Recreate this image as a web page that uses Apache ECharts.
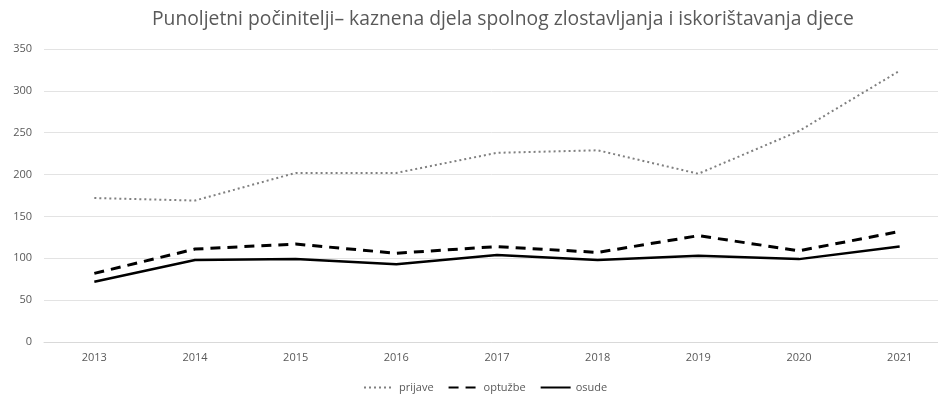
<!DOCTYPE html>
<html><head><meta charset="utf-8">
<script src="https://cdn.jsdelivr.net/npm/echarts@6/dist/echarts.min.js"></script>
<style>html,body{margin:0;padding:0;background:#fff}#c{width:938px;height:400px}</style>
</head><body><div id="c"></div>
<script>
const titleText = 'Punoljetni počinitelji– kaznena djela spolnog zlostavljanja i iskorištavanja djece';
const years = ['2013','2014','2015','2016','2017','2018','2019','2020','2021'];
const prijave = [172, 169, 202, 202, 226, 229, 201, 252, 324];
const optuzbe = [82, 111, 117, 106, 114, 107, 127, 109, 132];
const osude = [72, 98, 99, 93, 104, 98, 103, 99, 114];
const yTicks = {min: 0, max: 350, interval: 50};

const chart = echarts.init(document.getElementById('c'));
const font = '"Open Sans", sans-serif';
chart.setOption({
  animation: false,
  title: {text: titleText, left: 147, top: 5, textStyle: {fontFamily: font, fontSize: 19.3, fontWeight: 'normal', color: '#595959'}},
  legend: {
    left: 358, bottom: 2, itemWidth: 30, itemHeight: 10, itemGap: 14,
    itemStyle: {opacity: 0},
    textStyle: {fontFamily: font, fontSize: 11, color: '#595959'},
    data: ['prijave', 'optužbe', 'osude']
  },
  grid: {left: 44, width: 906, top: 49, bottom: 58, outerBoundsMode: 'none', containLabel: false},
  xAxis: {
    type: 'category', data: years, boundaryGap: true,
    axisLine: {lineStyle: {color: '#d9d9d9'}}, axisTick: {show: false},
    axisLabel: {fontFamily: font, fontSize: 11, color: '#595959', margin: 10}
  },
  yAxis: {
    type: 'value', min: yTicks.min, max: yTicks.max, interval: yTicks.interval,
    axisLine: {show: false}, axisTick: {show: false},
    splitLine: {lineStyle: {color: '#e3e3e3', width: 1}},
    axisLabel: {fontFamily: font, fontSize: 11, color: '#595959', margin: 12}
  },
  series: [
    {name: 'prijave', type: 'line', data: prijave, showSymbol: false, symbol: 'none',
     lineStyle: {color: '#808080', width: 2, type: [2, 3]}, itemStyle: {color: '#808080'}},
    {name: 'optužbe', type: 'line', data: optuzbe, showSymbol: false, symbol: 'none',
     lineStyle: {color: '#000', width: 3, type: [10, 7]}, itemStyle: {color: '#000'}},
    {name: 'osude', type: 'line', data: osude, showSymbol: false, symbol: 'none',
     lineStyle: {color: '#000', width: 2.5, type: 'solid'}, itemStyle: {color: '#000'}}
  ]
});
</script></body></html>
